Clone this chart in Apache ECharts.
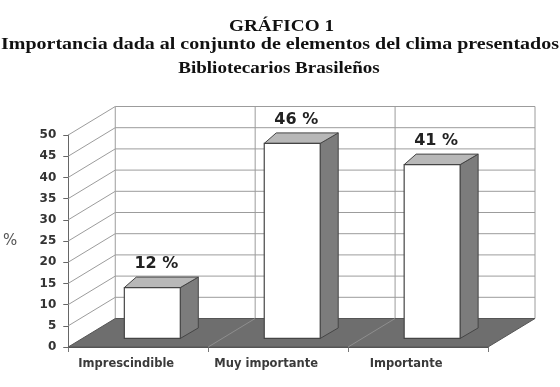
<!DOCTYPE html>
<html>
<head>
<meta charset="utf-8">
<script src="https://cdn.jsdelivr.net/npm/echarts@6/dist/echarts.min.js"></script>
<style>
    html, body { margin: 0; padding: 0; background: #fff; }
    #chart { width: 560px; height: 387px; }
</style>
</head>
<body>
<div id="chart"></div>
<script>
var titleLines = ['GRÁFICO 1', 'Importancia dada al conjunto de elementos del clima presentados', 'Bibliotecarios Brasileños'];
var categories = ['Imprescindible', 'Muy importante', 'Importante'];
var values = [12, 46, 41];
var valueLabels = ['12 %', '46 %', '41 %'];
var yTicks = [0, 5, 10, 15, 20, 25, 30, 35, 40, 45, 50];

// fake 3d depth (px)
var DX = 47, DY = -28.5;
var gridColor = '#9c9c9c';

function drawWalls(params, api) {
    var bw = api.size([1, 0])[0];
    var base = api.coord([0, 0]);
    var x0 = base[0] - bw / 2;
    var x1 = x0 + bw * categories.length;
    var y0 = base[1];
    var yTop = api.coord([0, yTicks[yTicks.length - 1]])[1];
    var children = [];
    var line = function (ax, ay, bx, by, color) {
        children.push({
            type: 'line',
            shape: { x1: ax, y1: ay, x2: bx, y2: by },
            style: { stroke: color || gridColor, lineWidth: 1 }
        });
    };
    yTicks.forEach(function (t) {
        if (t === 0) return;
        var y = api.coord([0, t])[1];
        line(x0, y, x0 + DX, y + DY);
        line(x0 + DX, y + DY, x1 + DX, y + DY);
    });
    for (var i = 0; i <= categories.length; i++) {
        line(x0 + DX + i * bw, yTop + DY, x0 + DX + i * bw, y0 + DY);
    }
    children.push({
        type: 'polygon',
        shape: { points: [[x0, y0], [x1, y0], [x1 + DX, y0 + DY], [x0 + DX, y0 + DY]] },
        style: { fill: '#6e6e6e', stroke: '#555', lineWidth: 1 }
    });
    for (var j = 1; j < categories.length; j++) {
        line(x0 + j * bw, y0, x0 + j * bw + DX, y0 + DY, '#8e8e8e');
    }
    return { type: 'group', children: children };
}

function drawBar(params, api) {
    var idx = api.value(0);
    var top = api.coord([idx, api.value(1)]);
    var bot = api.coord([idx, 0]);
    var bw = api.size([1, 0])[0];
    var w = bw * 0.4;
    var L = top[0] - w / 2 + DX * 0.3;
    var R = L + w;
    var T = top[1] + DY * 0.3;
    var B = bot[1] + DY * 0.3;
    var lx = 12, rx = 18, dy = -10.5;
    var edge = '#454545';
    return {
        type: 'group',
        children: [
            {
                type: 'polygon',
                shape: { points: [[R, T], [R + rx, T + dy], [R + rx, B + dy], [R, B]] },
                style: { fill: '#7c7c7c', stroke: edge, lineWidth: 1 }
            },
            {
                type: 'polygon',
                shape: { points: [[L, T], [L + lx, T + dy], [R + rx, T + dy], [R, T]] },
                style: { fill: '#b8b8b8', stroke: edge, lineWidth: 1 }
            },
            {
                type: 'rect',
                shape: { x: L, y: T, width: w, height: B - T },
                style: { fill: '#ffffff', stroke: edge, lineWidth: 1.2 }
            },
            {
                type: 'text',
                x: (L + R) / 2 + 4,
                y: T + dy - 13,
                style: {
                    text: valueLabels[idx],
                    align: 'center',
                    verticalAlign: 'middle',
                    font: 'bold 16px "DejaVu Sans"',
                    fill: '#222'
                }
            }
        ]
    };
}

var myChart = echarts.init(document.getElementById('chart'));

var option = {
    animation: false,
    backgroundColor: '#fff',
    graphic: [
        {
            type: 'text', x: 281.5, y: 26.5, scaleX: 1.13,
            style: { text: titleLines[0], align: 'center', verticalAlign: 'middle', font: 'bold 17px "Liberation Serif"', fill: '#111' }
        },
        {
            type: 'text', x: 280, y: 44.5, scaleX: 1.175,
            style: { text: titleLines[1], align: 'center', verticalAlign: 'middle', font: 'bold 17px "Liberation Serif"', fill: '#111' }
        },
        {
            type: 'text', x: 279, y: 68.5, scaleX: 1.12,
            style: { text: titleLines[2], align: 'center', verticalAlign: 'middle', font: 'bold 17px "Liberation Serif"', fill: '#111' }
        }
    ],
    grid: { left: 68, right: 72, top: 135, bottom: 40 },
    xAxis: {
        type: 'category',
        data: categories,
        axisLine: { show: true, lineStyle: { color: '#555' } },
        axisTick: { show: true, length: 5, alignWithLabel: false, lineStyle: { color: '#777' } },
        splitLine: { show: false },
        axisLabel: {
            margin: 11,
            formatter: function (v) { return '{a|' + v + '}'; },
            rich: {
                a: {
                    fontFamily: 'DejaVu Sans',
                    fontWeight: 'bold',
                    fontSize: 11.5,
                    color: '#3a3a3a',
                    padding: [0, 24, 0, 0]
                }
            }
        }
    },
    yAxis: {
        type: 'value',
        min: 0,
        max: 50,
        interval: 5,
        name: '%',
        nameLocation: 'middle',
        nameGap: 51,
        nameRotate: 0,
        nameTextStyle: { fontFamily: 'DejaVu Sans', fontSize: 15, color: '#555' },
        axisLine: { show: true, lineStyle: { color: '#666' } },
        axisTick: { show: true, length: 5, lineStyle: { color: '#666' } },
        splitLine: { show: false },
        axisLabel: {
            margin: 12,
            fontFamily: 'DejaVu Sans',
            fontWeight: 'bold',
            fontSize: 12,
            color: '#333'
        }
    },
    series: [
        {
            name: 'walls',
            type: 'custom',
            renderItem: drawWalls,
            data: [[0, 0]],
            z: 1,
            silent: true
        },
        {
            name: 'Importancia',
            type: 'custom',
            renderItem: drawBar,
            data: values.map(function (v, i) { return [i, v]; }),
            z: 3
        }
    ]
};

myChart.setOption(option);
</script>
</body>
</html>
